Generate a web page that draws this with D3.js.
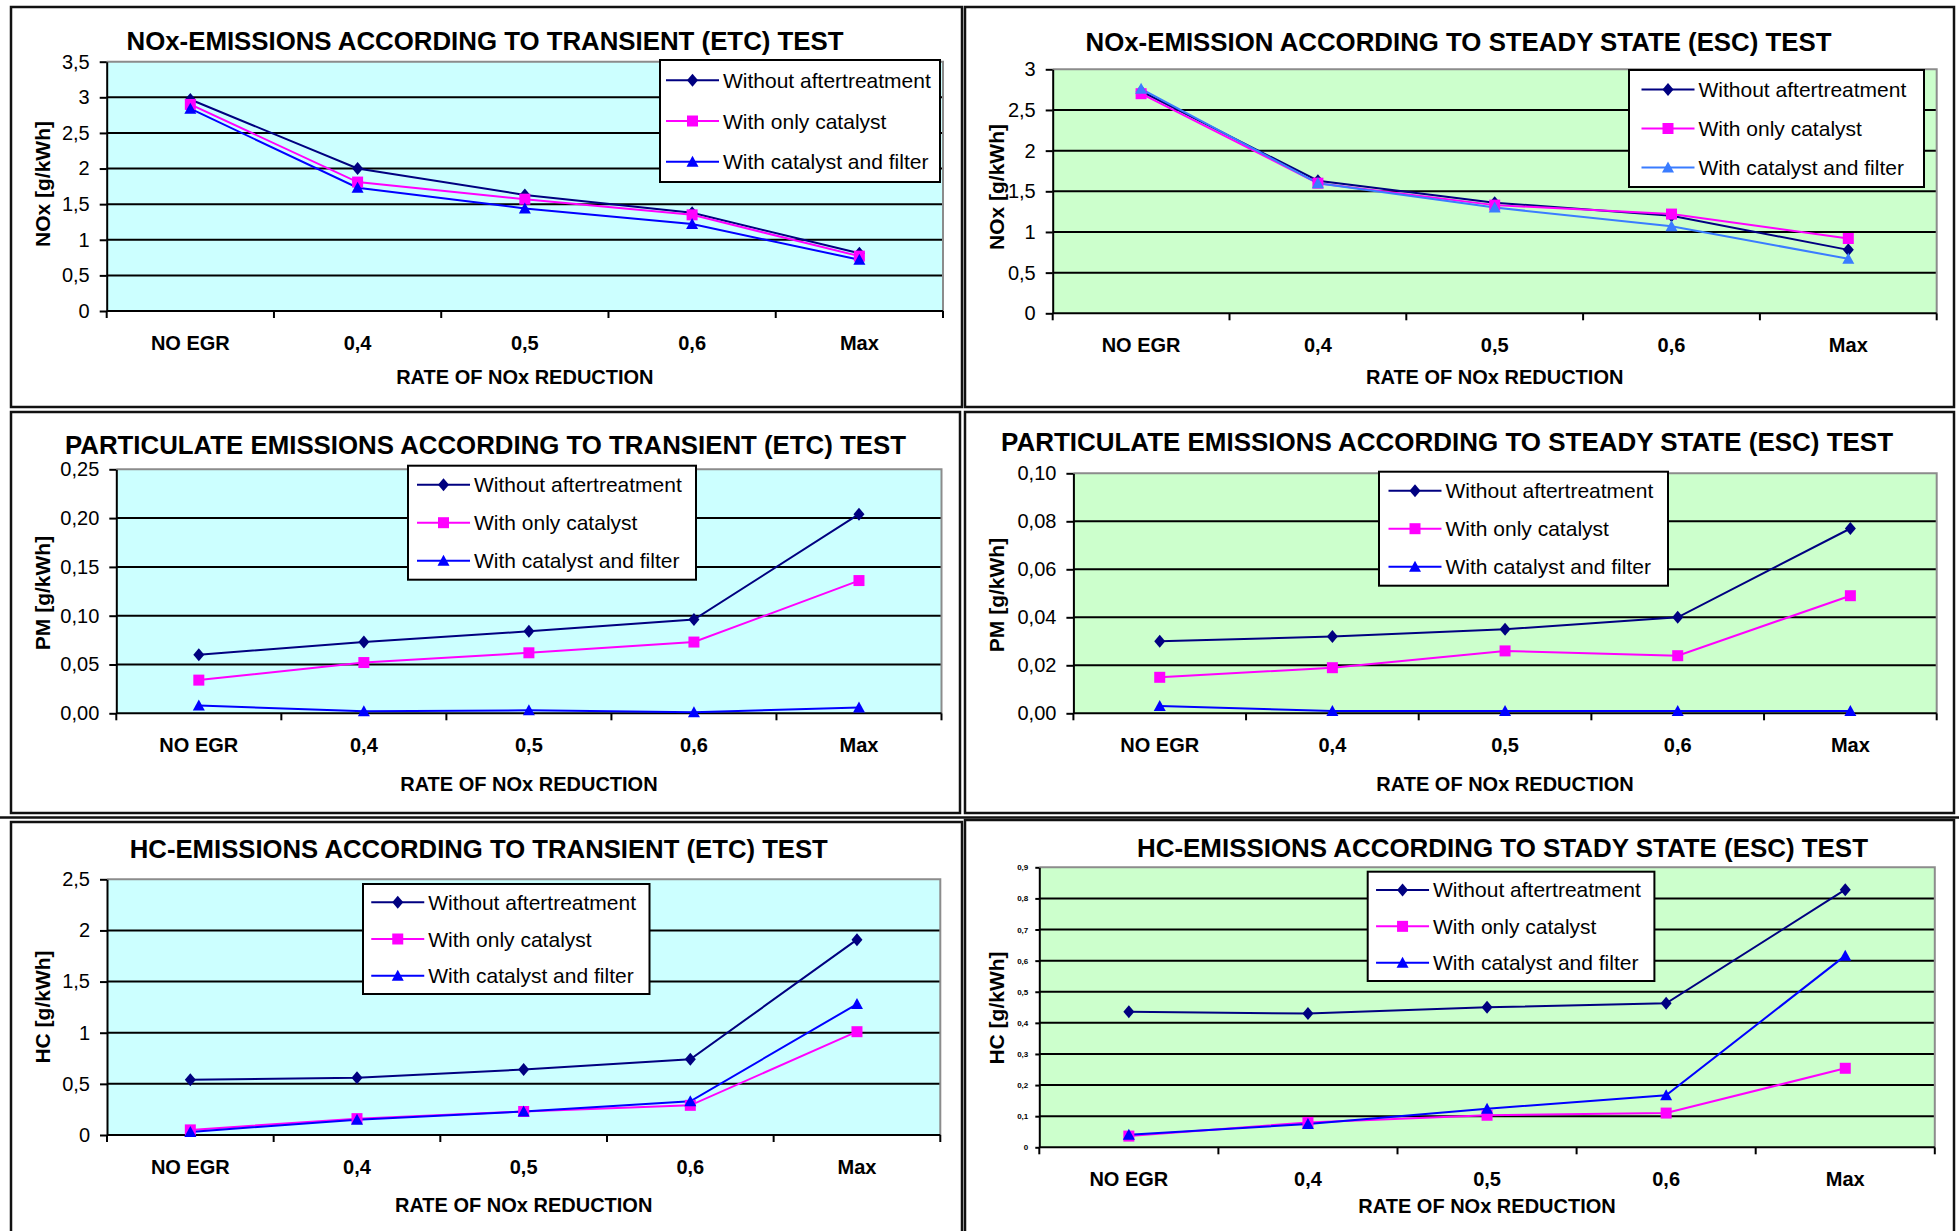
<!DOCTYPE html>
<html>
<head>
<meta charset="utf-8">
<script src="https://cdn.jsdelivr.net/npm/d3@7"></script>
<style>
  body { margin: 0; background: #fff; }
  svg { display: block; }
  text { font-family: "Liberation Sans", Arial, sans-serif; fill: #000; }
</style>
</head>
<body>
<svg id="chart" width="1959" height="1231"></svg>
<script>
// ---- data ----------------------------------------------------------------
const categories = ["NO EGR", "0,4", "0,5", "0,6", "Max"];
const seriesNames = ["Without aftertreatment", "With only catalyst", "With catalyst and filter"];

const noxEtcWithout  = [2.97, 2.00, 1.63, 1.38, 0.81];
const noxEtcCatalyst = [2.90, 1.81, 1.57, 1.35, 0.77];
const noxEtcFilter   = [2.84, 1.73, 1.44, 1.22, 0.72];

const noxEscWithout  = [2.73, 1.63, 1.36, 1.20, 0.78];
const noxEscCatalyst = [2.70, 1.60, 1.33, 1.22, 0.92];
const noxEscFilter   = [2.76, 1.60, 1.30, 1.07, 0.67];

const pmEtcWithout  = [0.060, 0.073, 0.084, 0.096, 0.204];
const pmEtcCatalyst = [0.034, 0.052, 0.062, 0.073, 0.136];
const pmEtcFilter   = [0.008, 0.002, 0.003, 0.001, 0.006];

const pmEscWithout  = [0.030, 0.032, 0.035, 0.040, 0.077];
const pmEscCatalyst = [0.015, 0.019, 0.026, 0.024, 0.049];
const pmEscFilter   = [0.003, 0.001, 0.001, 0.001, 0.001];

const hcEtcWithout  = [0.54, 0.56, 0.64, 0.74, 1.91];
const hcEtcCatalyst = [0.05, 0.16, 0.23, 0.29, 1.01];
const hcEtcFilter   = [0.03, 0.15, 0.23, 0.33, 1.28];

const hcEscWithout  = [0.436, 0.430, 0.450, 0.463, 0.828];
const hcEscCatalyst = [0.036, 0.080, 0.103, 0.110, 0.254];
const hcEscFilter   = [0.040, 0.075, 0.124, 0.167, 0.616];

const noxEtcTicks = [0, 0.5, 1, 1.5, 2, 2.5, 3, 3.5];
const noxEscTicks = [0, 0.5, 1, 1.5, 2, 2.5, 3];
const pmEtcTicks  = [0, 0.05, 0.10, 0.15, 0.20, 0.25];
const pmEscTicks  = [0, 0.02, 0.04, 0.06, 0.08, 0.10];
const hcEtcTicks  = [0, 0.5, 1, 1.5, 2, 2.5];
const hcEscTicks  = [0, 0.1, 0.2, 0.3, 0.4, 0.5, 0.6, 0.7, 0.8, 0.9];

const chartTitles = [
  "NOx-EMISSIONS ACCORDING TO TRANSIENT (ETC) TEST",
  "NOx-EMISSION ACCORDING TO STEADY STATE (ESC) TEST",
  "PARTICULATE EMISSIONS ACCORDING TO TRANSIENT (ETC) TEST",
  "PARTICULATE EMISSIONS ACCORDING TO STEADY STATE (ESC) TEST",
  "HC-EMISSIONS ACCORDING TO TRANSIENT (ETC) TEST",
  "HC-EMISSIONS ACCORDING TO STADY STATE (ESC) TEST"
];
const yAxisTitles = ["NOx [g/kWh]", "NOx [g/kWh]", "PM [g/kWh]", "PM [g/kWh]", "HC  [g/kWh]", "HC [g/kWh]"];
const xAxisTitle = "RATE OF NOx REDUCTION";

// ---- layout & style of the six charts -------------------------------------
const CYAN = "#ccffff", GREEN = "#ccffcc";
const panels = [
  { series: [noxEtcWithout, noxEtcCatalyst, noxEtcFilter], ticks: noxEtcTicks, fmt: ".1~f",
    frame: [11, 7, 951, 400], plot: [106.7, 61.7, 943, 311], bg: CYAN,
    title: [485, 50, 717], legend: [660, 60, 280, 122], xTitleY: 384, yTitleY: 184, filterColor: "#0000ff" },
  { series: [noxEscWithout, noxEscCatalyst, noxEscFilter], ticks: noxEscTicks, fmt: ".1~f",
    frame: [965, 7, 989, 400], plot: [1052.7, 69.3, 1936.7, 313.3], bg: GREEN,
    title: [1458.5, 51, 746], legend: [1629, 70, 295, 117], xTitleY: 384, yTitleY: 187, filterColor: "#3a7cff" },
  { series: [pmEtcWithout, pmEtcCatalyst, pmEtcFilter], ticks: pmEtcTicks, fmt: ".2f",
    frame: [11, 412, 949, 401], plot: [116.3, 469.3, 941.5, 713.3], bg: CYAN,
    title: [485.5, 453.5, 841], legend: [408, 465.7, 288, 114], xTitleY: 790.5, yTitleY: 593, filterColor: "#0000ff" },
  { series: [pmEscWithout, pmEscCatalyst, pmEscFilter], ticks: pmEscTicks, fmt: ".2f",
    frame: [965, 412, 989, 401], plot: [1073.4, 473.3, 1936.7, 713.3], bg: GREEN,
    title: [1447, 450.5, 892], legend: [1379, 471.7, 289, 114], xTitleY: 790.5, yTitleY: 595, filterColor: "#0000ff" },
  { series: [hcEtcWithout, hcEtcCatalyst, hcEtcFilter], ticks: hcEtcTicks, fmt: ".1~f",
    frame: [11, 822, 951, 430], plot: [107, 879.3, 940.3, 1135], bg: CYAN,
    title: [478.8, 857.5, 698], legend: [363, 884, 286.5, 110], xTitleY: 1212, yTitleY: 1007, filterColor: "#0000ff" },
  { series: [hcEscWithout, hcEscCatalyst, hcEscFilter], ticks: hcEscTicks, fmt: ".1~f",
    frame: [965, 820, 989, 430], plot: [1039.3, 867.3, 1934.8, 1147.3], bg: GREEN,
    title: [1502.5, 857, 731], legend: [1367.7, 871.7, 286.7, 109.3], xTitleY: 1213, yTitleY: 1008,
    filterColor: "#0000ff", tinyTicks: true }
];

const locale = d3.formatLocale({ decimal: ",", thousands: ".", grouping: [3], currency: ["", " €"] });
const seriesColors = ["#000080", "#ff00ff", null];

// marker shapes, centred on (0,0)
const markerPath = [
  () => "M0,-6.5L5.5,0L0,6.5L-5.5,0Z",         // diamond
  () => "M-5.5,-5.5H5.5V5.5H-5.5Z",            // square
  () => "M0,-6L6,5H-6Z"                        // triangle
];

const svg = d3.select("#chart");

// separator rule between the middle and bottom rows
svg.append("line").attr("x1", 0).attr("x2", 1959).attr("y1", 817.5).attr("y2", 817.5)
  .attr("stroke", "#111").attr("stroke-width", 2.5);

panels.forEach((p, i) => {
  const g = svg.append("g");
  const [fx, fy, fw, fh] = p.frame;
  const [x0, top, x1, bottom] = p.plot;

  // chart frame
  g.append("rect").attr("x", fx).attr("y", fy).attr("width", fw).attr("height", fh)
    .attr("fill", "#fff").attr("stroke", "#111").attr("stroke-width", 2.5);

  const x = d3.scaleBand().domain(categories).range([x0, x1]);
  const yMax = p.ticks[p.ticks.length - 1];
  const y = d3.scaleLinear().domain([0, yMax]).range([bottom, top]);

  // plot area
  g.append("rect").attr("x", x0).attr("y", top).attr("width", x1 - x0).attr("height", bottom - top)
    .attr("fill", p.bg);

  // gridlines
  g.append("g").selectAll("line").data(p.ticks.filter(t => t > 0 && t < yMax)).join("line")
    .attr("x1", x0).attr("x2", x1).attr("y1", d => y(d)).attr("y2", d => y(d))
    .attr("stroke", "#000").attr("stroke-width", 2);

  // plot area border (top / right in grey)
  g.append("path")
    .attr("d", `M${x0},${top}H${x1}V${bottom}`)
    .attr("fill", "none").attr("stroke", "#8c8c8c").attr("stroke-width", 2);

  // y axis
  const tickLen = p.tinyTicks ? 4 : 7;
  const yAxis = d3.axisLeft(y).tickValues(p.ticks).tickSize(tickLen).tickSizeOuter(0)
    .tickPadding(p.tinyTicks ? 7 : 10).tickFormat(locale.format(p.fmt));
  const ya = g.append("g").attr("transform", `translate(${x0},0)`).call(yAxis);
  ya.select(".domain").attr("stroke", "#000").attr("stroke-width", 2);
  ya.selectAll(".tick line").attr("stroke", "#000").attr("stroke-width", 2);
  ya.selectAll(".tick text")
    .style("font-family", '"Liberation Sans", Arial, sans-serif')
    .style("font-size", p.tinyTicks ? "8px" : "20px")
    .style("font-weight", p.tinyTicks ? "bold" : "normal")
    .attr("fill", "#111");

  // x axis: line, boundary ticks, category labels
  g.append("line").attr("x1", x0).attr("x2", x1).attr("y1", bottom).attr("y2", bottom)
    .attr("stroke", "#000").attr("stroke-width", 2);
  const bounds = categories.map(c => x(c)).concat([x1]);
  g.append("g").selectAll("line").data(bounds).join("line")
    .attr("x1", d => d).attr("x2", d => d).attr("y1", bottom).attr("y2", bottom + 7)
    .attr("stroke", "#000").attr("stroke-width", 2);
  g.append("g").selectAll("text").data(categories).join("text")
    .attr("x", d => x(d) + x.bandwidth() / 2).attr("y", bottom + 39)
    .attr("text-anchor", "middle").style("font-size", "20px").style("font-weight", "bold")
    .text(d => d);

  // axis titles
  g.append("text").attr("x", (x0 + x1) / 2).attr("y", p.xTitleY).attr("text-anchor", "middle")
    .style("font-size", "20px").style("font-weight", "bold").text(xAxisTitle);
  g.append("text")
    .attr("transform", `translate(${fx + 31},${p.yTitleY}) rotate(-90)`)
    .attr("text-anchor", "middle").attr("dy", "0.36em")
    .style("font-size", "21px").style("font-weight", "bold").text(yAxisTitles[i]);

  // chart title
  const [tx, ty, tw] = p.title;
  g.append("text").attr("x", tx).attr("y", ty).attr("text-anchor", "middle")
    .attr("textLength", tw).attr("lengthAdjust", "spacingAndGlyphs")
    .style("font-size", "26px").style("font-weight", "bold").text(chartTitles[i]);

  // series lines and markers
  const colors = [seriesColors[0], seriesColors[1], p.filterColor];
  const line = d3.line().x((d, k) => x(categories[k]) + x.bandwidth() / 2).y(d => y(d));
  p.series.forEach((vals, s) => {
    g.append("path").datum(vals).attr("d", line)
      .attr("fill", "none").attr("stroke", colors[s]).attr("stroke-width", 2);
  });
  p.series.forEach((vals, s) => {
    g.append("g").selectAll("path").data(vals).join("path")
      .attr("transform", (d, k) => `translate(${x(categories[k]) + x.bandwidth() / 2},${y(d)})`)
      .attr("d", markerPath[s]).attr("fill", colors[s]);
  });

  // legend
  const [lx, ly, lw, lh] = p.legend;
  const lg = g.append("g");
  lg.append("rect").attr("x", lx).attr("y", ly).attr("width", lw).attr("height", lh)
    .attr("fill", "#fff").attr("stroke", "#000").attr("stroke-width", 2);
  const pad = Math.max(6, (lw - 270) / 2);
  seriesNames.forEach((name, s) => {
    const ry = ly + lh * (s + 0.5) / 3;
    const sx = lx + pad;
    lg.append("line").attr("x1", sx).attr("x2", sx + 53).attr("y1", ry).attr("y2", ry)
      .attr("stroke", colors[s]).attr("stroke-width", 2);
    lg.append("path").attr("transform", `translate(${sx + 26.5},${ry})`)
      .attr("d", markerPath[s]).attr("fill", colors[s]);
    lg.append("text").attr("x", sx + 57).attr("y", ry).attr("dy", "0.36em")
      .style("font-size", "21px").attr("fill", "#111").text(name);
  });
});
</script>
</body>
</html>
